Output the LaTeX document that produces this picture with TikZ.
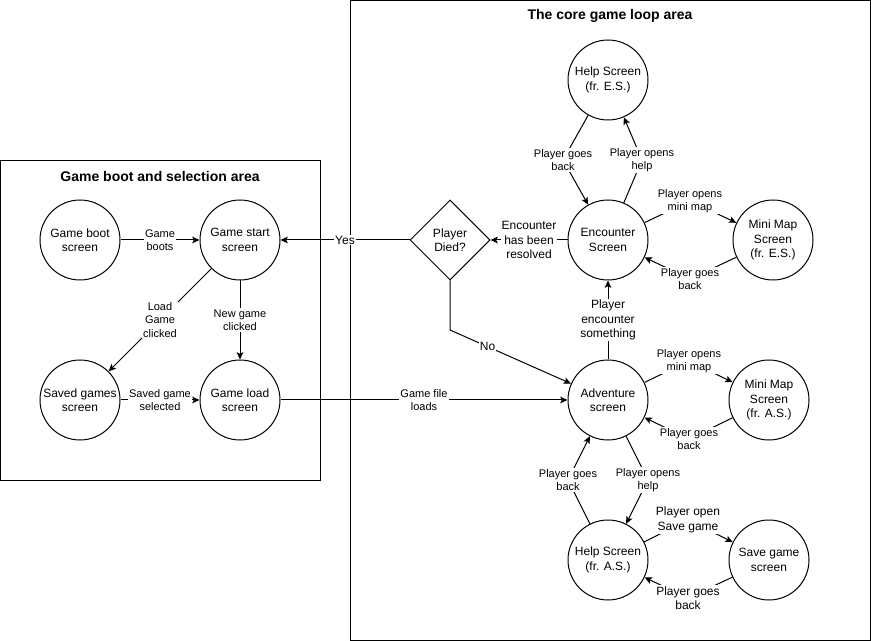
\documentclass[tikz,border=0pt]{standalone}
\usepackage{fontspec}
\setmainfont{Liberation Sans}
\usetikzlibrary{shapes.geometric,arrows.meta}
\tikzset{
  state/.style={circle,draw,line width=0.75pt,minimum size=60pt,inner sep=0pt,align=center,font=\fontsize{9}{10.8}\selectfont},
  decision/.style={diamond,draw,line width=0.75pt,minimum width=60pt,minimum height=60pt,inner sep=0pt,align=center,font=\fontsize{9}{10.8}\selectfont},
  lbl/.style={fill=white,inner sep=0.8pt,align=center,font=\fontsize{8.25}{9.9}\selectfont},
  lblbig/.style={fill=white,inner sep=0.8pt,align=center,font=\fontsize{9}{10.8}\selectfont},
  arr/.style={draw,line width=0.75pt,-{Stealth[length=5.5pt,width=5pt,inset=1.2pt]}},
  area/.style={draw,line width=0.75pt},
  areatitle/.style={font=\bfseries\fontsize{10.5}{12.6}\selectfont}
}
\begin{document}
\begin{tikzpicture}[x=0.75pt,y=-0.75pt]
\useasboundingbox (0,0) rectangle (871,641);
% areas
\draw[area] (0.5,160.5) rectangle (320.5,480.5);
\draw[area] (350.5,0.5) rectangle (870.5,640.5);
\node[areatitle] (t1) at (160,176) {Game boot and selection area};
\node[areatitle] (t2) at (610,16) {The core game loop area};
% nodes
\node[state] (boot) at (80,240) {Game boot\\screen};
\node[state] (start) at (240,240) {Game start\\screen};
\node[state] (saved) at (80,400) {Saved games\\screen};
\node[state] (load) at (240,400) {Game load\\screen};
\node[decision] (died) at (450,240) {Player\\Died?};
\node[state] (enc) at (608,240) {Encounter\\Screen};
\node[state] (helpE) at (608,80) {Help Screen\\(fr. E.S.)};
\node[state] (mapE) at (773,240) {Mini Map\\Screen\\(fr. E.S.)};
\node[state] (adv) at (608,400) {Adventure\\screen};
\node[state] (mapA) at (769,400) {Mini Map\\Screen\\(fr. A.S.)};
\node[state] (helpA) at (608,560) {Help Screen\\(fr. A.S.)};
\node[state] (save) at (769,560) {Save game\\screen};
% left edges
\draw[arr] (boot) -- node[lbl]{Game\\boots} (start);
\draw[arr] (start) -- node[lbl]{Load\\Game\\clicked} (saved);
\draw[arr] (start) -- node[lbl]{New game\\clicked} (load);
\draw[arr] (saved) -- node[lbl]{Saved game\\selected} (load);
\draw[arr] (load) -- node[lbl]{Game file\\loads} (adv);
% decision
\draw[arr] (died) -- node[lblbig]{Yes} (start);
\coordinate (nobend) at (450,330);
\draw[arr] (died.south) -- (nobend) -- node[lblbig,pos=0.31]{No} (adv);
\draw[arr] (enc) -- node[lblbig]{Encounter\\has been\\resolved} (died);
\draw[arr] (adv) -- node[lblbig]{Player\\encounter\\something} (enc);
% encounter loops
\draw[arr] (enc) -- (642,160) node[lbl]{Player opens\\help} -- (helpE);
\draw[arr] (helpE) -- (563,160) node[lbl]{Player goes\\back} -- (enc);
\draw[arr] (enc) -- (690,201) node[lbl]{Player opens\\mini map} -- (mapE);
\draw[arr] (mapE) -- (690,279) node[lbl]{Player goes\\back} -- (enc);
% adventure loops
\draw[arr] (adv) -- (689,361) node[lbl]{Player opens\\mini map} -- (mapA);
\draw[arr] (mapA) -- (689,439) node[lbl]{Player goes\\back} -- (adv);
\draw[arr] (adv) -- (648,480) node[lbl]{Player opens\\help} -- (helpA);
\draw[arr] (helpA) -- (568,480) node[lbl]{Player goes\\back} -- (adv);
% help A.S. / save
\draw[arr] (helpA) -- (688,520) node[lblbig]{Player open\\Save game} -- (save);
\draw[arr] (save) -- (688,598) node[lblbig]{Player goes\\back} -- (helpA);
\end{tikzpicture}
\end{document}
